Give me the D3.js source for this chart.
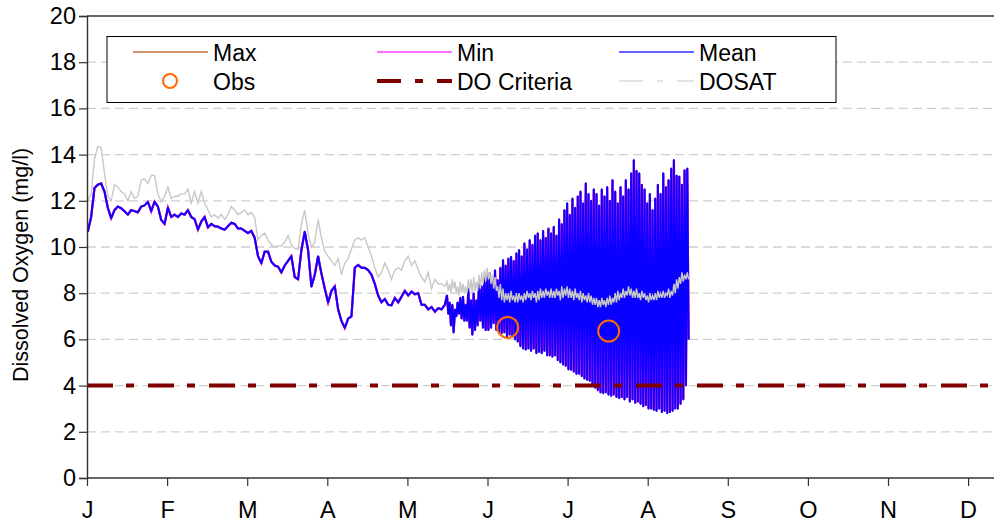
<!DOCTYPE html>
<html><head><meta charset="utf-8">
<script src="https://cdn.jsdelivr.net/npm/d3@7"></script>
<style>
html,body{margin:0;padding:0;background:#fff;}
svg text{font-family:"Liberation Sans",Arial,sans-serif;fill:#000;}
</style></head>
<body><svg id="chart" width="994" height="529"></svg>
<script>
// ---------------- data ----------------
const monthLabels = ["J","F","M","A","M","J","J","A","S","O","N","D"];
const yTickValues = [0,2,4,6,8,10,12,14,16,18,20];

// early period: one value every 1/24 month, starting at month 0.01
const earlyStart = 0.01, earlyStep = 1/24;
const meanEarly = [10.66,11.3,12.55,12.7,12.75,12.4,11.7,11.25,11.6,11.75,
  11.68,11.55,11.4,11.6,11.55,11.5,11.75,11.8,11.95,11.55,
  11.96,11.75,11.17,11.0,11.7,11.3,11.4,11.3,11.45,11.4,
  11.6,11.3,11.2,10.75,11.1,11.3,10.85,11.0,10.9,10.88,
  10.8,10.75,10.9,11.05,11.0,10.8,10.8,10.7,10.6,10.7,
  10.4,9.6,9.3,9.8,9.8,9.36,9.2,9.15,8.9,9.2,
  9.4,9.6,8.7,8.6,9.87,10.66,9.87,8.28,8.8,9.6,
  8.85,8.2,7.6,8.1,8.3,7.3,6.8,6.5,6.9,7.0,
  9.1,9.22,9.1,9.1,9.0,8.8,8.4,7.9,7.6,7.75,
  7.5,7.48,7.8,7.6,7.85,8.1,7.9,8.07,7.95,8.0,
  7.5,7.5,7.3,7.4,7.2,7.35,7.3,7.5];
const dosatEarly = [12.0,12.3,13.8,14.35,14.3,13.2,12.2,12.0,12.7,12.6,
  12.4,12.3,12.0,12.4,12.1,12.2,12.9,12.95,12.75,13.1,
  13.1,12.3,11.95,12.2,12.6,12.1,12.2,12.2,12.3,12.3,
  12.5,11.9,12.4,11.9,12.4,11.9,11.6,11.3,11.4,11.25,
  11.4,11.2,11.4,11.75,11.6,11.4,11.5,11.6,11.4,11.5,
  11.27,10.3,10.5,10.6,10.3,10.1,10.0,10.05,10.05,10.2,
  10.5,10.1,9.94,9.9,11.0,11.6,10.6,10.0,10.2,11.2,
  10.4,9.8,9.6,9.4,9.2,9.5,8.8,9.3,9.5,9.9,
  10.3,10.4,10.3,10.4,10.0,9.6,9.1,8.7,8.9,9.3,
  9.0,8.6,9.0,9.1,9.0,9.4,9.6,9.2,9.4,9.0,
  8.7,8.5,8.9,8.2,8.6,8.4,8.4,8.3];

// late period: daily high / low pairs, each value 1/60 month apart
const lateStart = 4.494, lateStep = 1/60;
const meanLateHigh = [7.9,7.6,7.5,7.3,7.6,7.8,7.85,7.5,8.2,7.7,
  8.0,7.7,8.5,8.3,8.7,8.9,8.87,8.6,9.0,8.57,
  9.1,9.44,9.2,9.5,9.58,9.4,9.73,9.87,9.6,10.16,
  9.9,10.3,10.1,10.5,10.6,10.3,10.7,10.4,10.8,10.6,
  10.88,10.5,11.2,11.0,11.6,11.9,11.4,12.1,11.7,12.2,
  12.4,11.9,12.76,12.3,12.0,12.5,12.3,11.8,12.5,12.2,
  12.6,12.0,12.9,12.4,11.9,12.6,12.2,12.9,12.5,13.2,
  13.77,13.3,13.2,12.7,12.5,11.9,12.3,11.6,12.1,12.7,
  12.3,13.2,12.6,12.9,13.4,13.77,13.1,13.05,12.7,13.33,13.4];
const meanLateLow = [7.1,6.6,6.3,7.0,7.1,6.9,6.8,6.8,6.5,6.2,
  6.4,6.6,6.8,6.5,6.4,6.4,6.5,6.7,6.4,6.3,
  6.26,6.3,6.12,6.2,6.12,6.0,5.9,5.7,5.6,5.55,
  5.6,5.5,5.6,5.4,5.45,5.4,5.5,5.3,5.3,5.25,
  5.3,5.1,5.0,4.9,4.85,4.7,4.68,4.6,4.5,4.5,
  4.4,4.3,4.24,4.2,4.0,3.9,3.8,3.7,3.67,3.7,
  3.6,3.55,3.6,3.5,3.45,3.5,3.4,3.5,3.3,3.4,
  3.25,3.3,3.2,3.1,3.15,3.0,3.0,2.94,2.9,3.0,
  2.85,2.9,2.8,2.85,2.9,3.0,3.0,3.2,3.4,4.0,6.0];
const dosatLateHigh = [8.5,8.4,8.6,8.5,8.3,8.5,8.4,8.3,8.6,8.6,
  8.7,8.5,8.8,8.9,9.0,9.1,8.9,8.8,8.7,8.3,
  8.4,8.2,8.0,8.0,8.1,7.9,8.0,8.0,7.9,8.0,
  8.1,8.0,8.1,8.0,8.1,8.2,8.1,8.2,8.1,8.2,
  8.1,8.2,8.1,8.3,8.2,8.3,8.2,8.1,8.2,8.0,
  8.1,8.0,7.9,8.0,7.9,7.8,7.8,7.7,7.8,7.7,
  7.8,7.9,7.8,8.0,8.1,8.0,8.2,8.1,8.3,8.2,
  8.1,8.2,8.0,8.1,8.0,7.9,8.0,7.9,8.0,8.1,
  8.0,8.1,8.0,8.2,8.1,8.4,8.6,8.7,8.9,8.8,8.9];
const dosatLateLow = [8.1,8.0,8.2,8.0,7.9,8.0,8.0,8.0,8.1,8.0,
  8.1,8.1,8.2,8.4,8.5,8.6,8.4,8.2,8.1,7.8,
  7.7,7.6,7.7,7.6,7.7,7.6,7.6,7.7,7.6,7.7,
  7.8,7.7,7.8,7.6,7.7,7.8,7.8,7.9,7.8,7.8,
  7.8,7.9,7.7,7.8,7.9,7.8,7.8,7.7,7.8,7.7,
  7.6,7.7,7.6,7.6,7.5,7.5,7.4,7.4,7.5,7.4,
  7.5,7.5,7.6,7.6,7.7,7.8,7.8,7.9,7.9,7.8,
  7.8,7.8,7.7,7.8,7.7,7.6,7.7,7.7,7.7,7.8,
  7.8,7.8,7.9,7.8,7.9,8.0,8.2,8.4,8.5,8.6,8.6];

// Max and Min coincide with Mean at this scale
const maxEarly = meanEarly, maxLateHigh = meanLateHigh, maxLateLow = meanLateLow;
const minEarly = meanEarly, minLateHigh = meanLateHigh, minLateLow = meanLateLow;

const obsMonths = [5.252, 6.513];
const obsValues = [6.52, 6.36];
const doCriteriaMonths = [0, 12];
const doCriteriaValues = [4.0, 4.0];

const legendItems = ["Max","Min","Mean","Obs","DO Criteria","DOSAT"];

// ---------------- build series ----------------
function buildSeries(early, hi, lo) {
  const pts = early.map((v, i) => [earlyStart + i * earlyStep, v]);
  hi.forEach((h, j) => {
    pts.push([lateStart + (2 * j) * lateStep, h]);
    if (j < lo.length) pts.push([lateStart + (2 * j + 1) * lateStep, lo[j]]);
  });
  return pts;
}
const maxSeries = buildSeries(maxEarly, maxLateHigh, maxLateLow);
const minSeries = buildSeries(minEarly, minLateHigh, minLateLow);
const meanSeries = buildSeries(meanEarly, meanLateHigh, meanLateLow);
const dosatSeries = buildSeries(dosatEarly, dosatLateHigh, dosatLateLow);

// ---------------- chart ----------------
const svg = d3.select("#chart");
const x = d3.scaleLinear().domain([0, 12]).range([87, 87 + 12 * 80.1]);
const y = d3.scaleLinear().domain([0, 20]).range([478, 16]);

// gridlines
svg.append("g").selectAll("line").data(yTickValues.filter(v => v > 0 && v < 20)).join("line")
  .attr("x1", x(0)).attr("x2", 994).attr("y1", d => y(d)).attr("y2", d => y(d))
  .attr("stroke", "#cfcfcf").attr("stroke-width", 1.3).attr("stroke-dasharray", "9,5");

const line = d3.line().x(d => x(d[0])).y(d => y(d[1]));

svg.append("path").datum(maxSeries).attr("d", line)
  .attr("fill", "none").attr("stroke", "#c06030").attr("stroke-width", 2.2);
svg.append("path").datum(minSeries).attr("d", line)
  .attr("fill", "none").attr("stroke", "#ff00ff").attr("stroke-width", 2.2);
svg.append("path").datum(meanSeries).attr("d", line)
  .attr("fill", "none").attr("stroke", "#0000ff").attr("stroke-width", 1.9)
  .attr("stroke-opacity", 0.96).attr("stroke-linejoin", "round");

// obs
svg.append("g").selectAll("circle").data(obsMonths.map((m, i) => [m, obsValues[i]])).join("circle")
  .attr("cx", d => x(d[0])).attr("cy", d => y(d[1])).attr("r", 10.5)
  .attr("fill", "none").attr("stroke", "#ff6a00").attr("stroke-width", 2);

// DO criteria
svg.append("path").datum(doCriteriaMonths.map((m, i) => [m, doCriteriaValues[i]])).attr("d", line)
  .attr("fill", "none").attr("stroke", "#800000").attr("stroke-width", 4)
  .attr("stroke-dasharray", "26,13,8,14");

// DOSAT
svg.append("path").datum(dosatSeries).attr("d", line)
  .attr("fill", "none").attr("stroke", "#c8c8c8").attr("stroke-width", 1.4);

// axes
const yAxis = svg.append("g").attr("transform", `translate(${x(0)},0)`)
  .call(d3.axisLeft(y).tickValues(yTickValues).tickSize(8).tickPadding(3));
const xAxis = svg.append("g").attr("transform", `translate(0,${y(0)})`)
  .call(d3.axisBottom(x).tickValues(d3.range(0, 12)).tickSize(8).tickPadding(15)
    .tickFormat((d, i) => monthLabels[i]));
[yAxis, xAxis].forEach(g => {
  g.select(".domain").attr("stroke", "#333").attr("stroke-width", 1.4);
  g.selectAll(".tick line").attr("stroke", "#333").attr("stroke-width", 1.2);
  g.selectAll("text").attr("font-size", 23.5).attr("font-family", '"Liberation Sans",Arial,sans-serif').attr("fill", "#000");
});
xAxis.select(".domain").attr("d", `M${x(0)},0H994`);
// top border
svg.append("line").attr("x1", x(0)).attr("x2", 994).attr("y1", y(20)).attr("y2", y(20))
  .attr("stroke", "#333").attr("stroke-width", 1.4);

// y title
svg.append("text").attr("transform", "translate(28,265) rotate(-90)")
  .attr("text-anchor", "middle").attr("font-size", 21.5).text("Dissolved Oxygen (mg/l)");

// legend
const lg = svg.append("g");
lg.append("rect").attr("x", 107).attr("y", 36.5).attr("width", 729).attr("height", 66)
  .attr("fill", "#fff").attr("stroke", "#000").attr("stroke-width", 1);
const colX = [133, 377, 619];
const rowY = [52, 81];
const styles = [
  {stroke: "#c87040", w: 1.3},
  {stroke: "#ff40ff", w: 1.3},
  {stroke: "#3030ff", w: 1.3},
  null,
  {stroke: "#800000", w: 4, dash: "24,14,8,14"},
  {stroke: "#c8c8c8", w: 1.2, dash: "24,14,6,14"}
];
legendItems.forEach((name, i) => {
  const cx = colX[i % 3], cy = rowY[Math.floor(i / 3)];
  if (styles[i]) {
    lg.append("line").attr("x1", cx).attr("x2", cx + 75).attr("y1", cy).attr("y2", cy)
      .attr("stroke", styles[i].stroke).attr("stroke-width", styles[i].w)
      .attr("stroke-dasharray", styles[i].dash || null);
  } else {
    lg.append("circle").attr("cx", cx + 37).attr("cy", cy).attr("r", 7)
      .attr("fill", "none").attr("stroke", "#ff6a00").attr("stroke-width", 2);
  }
  lg.append("text").attr("x", cx + 80).attr("y", cy + 8.5).attr("font-size", 23).text(name);
});
</script></body></html>
